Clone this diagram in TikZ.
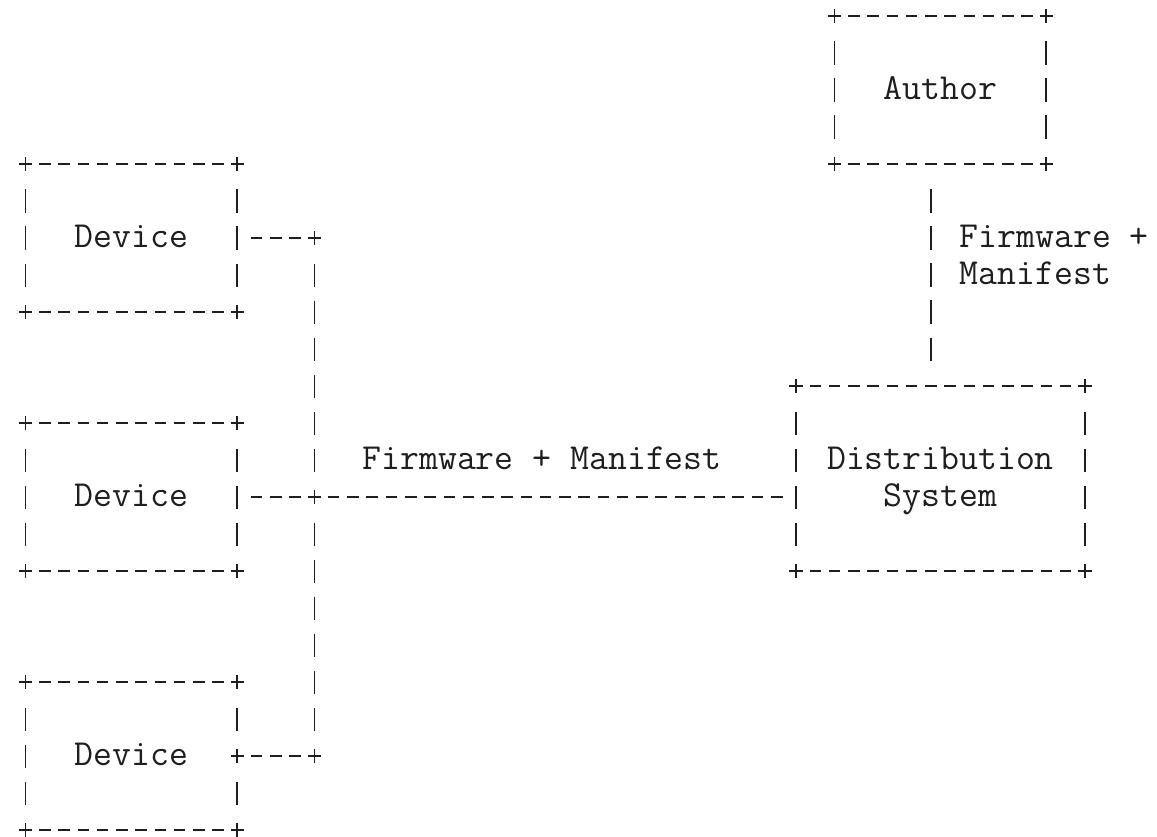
\documentclass[tikz,border=0pt]{standalone}
\usepackage{fontspec}
\usetikzlibrary{calc}

\begin{document}
\begin{tikzpicture}
        \definecolor{inkcolor}{HTML}{1E1E1E}
        \tikzstyle{every node}=[font=\ttfamily\fontsize{27.1pt}{27.23pt}\selectfont,text=inkcolor,inner sep=0pt,outer sep=0pt]
        \tikzset{glyph/.style={draw=inkcolor,line width=1.4pt}}
        \tikzset{hbar/.style={glyph,dash pattern=on 0.3cm off 0.2cm,shorten <=0.35cm,shorten >=0.35cm}}
        \tikzset{vbar/.style={glyph,dash pattern=on 0.6cm off 0.3606cm,shorten <=0.6606cm,shorten >=0.6606cm}}
        \tikzset{plusmark/.pic={\draw [glyph] (-0.175cm,0) -- (0.175cm,0) (0,-0.175cm) -- (0,0.175cm);}}
        \tikzset{box/.style={rectangle,minimum width=5.5cm,minimum height=3.8424cm,text height=0.48cm,text depth=0pt}}

        \useasboundingbox (-0.662cm,0.415cm) rectangle (29.37cm,-21.31cm);

        \node [box] (author) at (23.75cm,-1.921cm) {Author};
        \node [box] (dev1) at (2.75cm,-5.764cm) {Device};
        \node [box] (dev2) at (2.75cm,-12.488cm) {Device};
        \node [box] (dev3) at (2.75cm,-19.212cm) {Device};
        \node [box,minimum width=7.5cm,minimum height=4.803cm,align=center,text height=1.44cm] (dist) at (23.75cm,-12.008cm) {Distribution\\System};

        % frames: dashes along the edges, a plus on every corner
        \foreach \b in {author,dev1,dev2,dev3,dist} {
            \draw [hbar] (\b.north west) -- (\b.north east);
            \draw [hbar] (\b.south west) -- (\b.south east);
            \draw [vbar] (\b.north west) -- (\b.south west);
            \foreach \a in {north west,north east,south west,south east}
                \pic at (\b.\a) {plusmark};
        }
        \foreach \b in {author,dev1,dev2,dist}
            \draw [vbar] (\b.north east) -- (\b.south east);
        \draw [vbar] (dev3.north east) -- (dev3.east);
        \draw [vbar] (dev3.east) -- (dev3.south east);

        % bus joining the devices
        \coordinate (j1) at (7.5cm,-5.764cm);
        \coordinate (j2) at (7.5cm,-12.488cm);
        \coordinate (j3) at (7.5cm,-19.212cm);

        \draw [hbar] (dev1.east) -- (j1);
        \draw [hbar] (dev2.east) -- (dev2.east -| dist.west);
        \draw [hbar] (dev3.east) -- (j3);
        \draw [vbar] (j1) -- (j2);
        \draw [vbar] (j2) -- (j3);
        \draw [vbar] ([xshift=-0.25cm]author.south) -- ([xshift=-0.25cm]dist.north);
        \foreach \j in {j1,j2,j3,dev3.east}
            \pic at (\j) {plusmark};

        \node [anchor=base west] (buslabel) at (8.75cm,-11.767cm) {Firmware + Manifest};
        \node [anchor=west,align=left,text height=1.44cm,text depth=0pt] (uplabel) at (24.25cm,-6.244cm) {Firmware +\\Manifest};
\end{tikzpicture}
\end{document}
